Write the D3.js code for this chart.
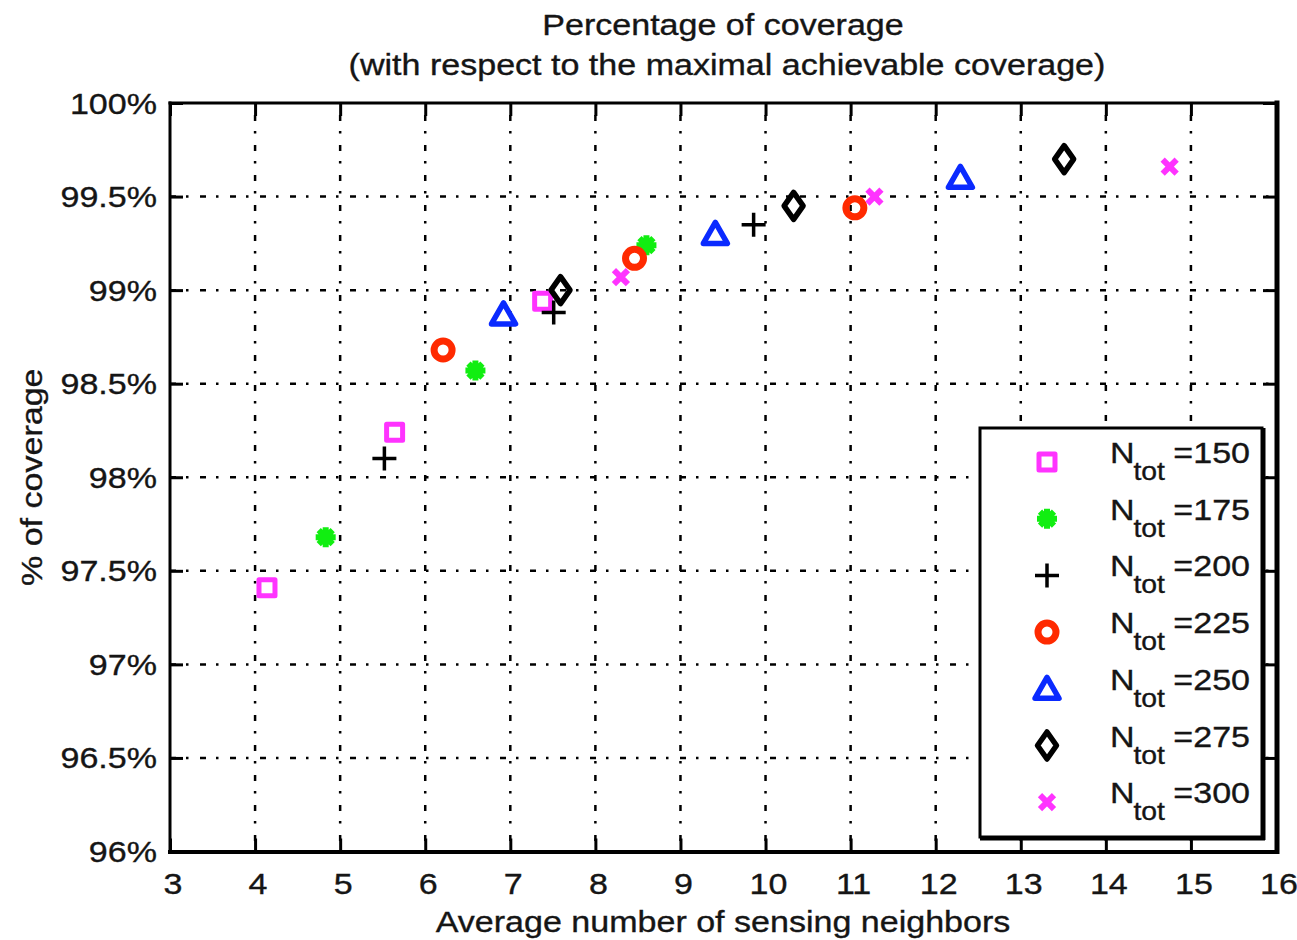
<!DOCTYPE html>
<html>
<head>
<meta charset="utf-8">
<script src="https://cdn.jsdelivr.net/npm/d3@7"></script>
<style>
  html, body { margin: 0; padding: 0; background: #fff; }
  svg { display: block; }
  text { font-family: "Liberation Sans", Arial, Helvetica, sans-serif; fill: #151515; stroke: #151515; stroke-width: 0.35; }
</style>
</head>
<body>
<svg id="chart" width="1297" height="940"></svg>
<script>
// Network sizes and their measured points
const nTot = [150, 175, 200, 225, 250, 275, 300];
const neighbors = [
  [4.14, 5.64, 7.38],
  [4.83, 6.59, 8.60],
  [5.52, 7.51, 9.86],
  [6.21, 8.46, 11.05],
  [6.92, 9.41, 12.29],
  [7.59, 10.33, 13.51],
  [8.30, 11.28, 14.75]
];
const coverage = [
  [97.41, 98.24, 98.94],
  [97.68, 98.57, 99.24],
  [98.10, 98.88, 99.35],
  [98.68, 99.17, 99.44],
  [98.87, 99.30, 99.60],
  [99.00, 99.45, 99.70],
  [99.07, 99.50, 99.66]
];
const markerKinds = ["square", "asterisk", "plus", "circle", "triangle", "diamond", "times"];
const markerColors = ["#ff33ff", "#11ee11", "#000000", "#ff2a00", "#0a2aff", "#000000", "#ff33ff"];

const xTicks = d3.range(3, 17, 1);
const yTicks = d3.range(96, 100.01, 0.5);

const titleLines = ["Percentage of coverage", "(with respect to the maximal achievable coverage)"];
const xLabel = "Average number of sensing neighbors";
const yLabel = "% of coverage";

const svg = d3.select("#chart");
const FS = 30, SX = 1.135;   // font size and horizontal glyph stretch

const x = d3.scaleLinear().domain([3, 16]).range([170, 1276]);
const y = d3.scaleLinear().domain([96, 100]).range([851.5, 103]);
const [x0, x1] = x.range();
const [y0, y1] = [y(100), y(96)];

function label(g, tx, ty, str, anchor, rot, size) {
  return g.append("text")
    .attr("transform", `translate(${tx},${ty})` + (rot ? ` rotate(${rot})` : "") + ` scale(${SX},1)`)
    .attr("text-anchor", anchor)
    .attr("font-size", size || FS)
    .text(str);
}

// Grid lines (dash-dot)
const grid = svg.append("g").attr("stroke", "#000").attr("stroke-width", 2.5).attr("fill", "none");
grid.selectAll("line.gx").data(xTicks.slice(1, -1)).join("line")
  .attr("x1", d => x(d)).attr("x2", d => x(d))
  .attr("y1", y0).attr("y2", y1)
  .attr("stroke-dasharray", "6,10,2.5,11.5").attr("stroke-dashoffset", 18);
grid.selectAll("line.gy").data(yTicks.slice(1, -1)).join("line")
  .attr("y1", d => y(d)).attr("y2", d => y(d))
  .attr("x1", x0).attr("x2", x1)
  .attr("stroke-dasharray", "6,10,2.5,11.5");

// Axes: ticks on all four sides, pointing inward
const tickLen = 13;
const axisBottom = d3.axisBottom(x).tickValues(xTicks).tickSize(-tickLen).tickFormat("");
const axisTop = d3.axisTop(x).tickValues(xTicks).tickSize(-tickLen).tickFormat("");
const axisLeft = d3.axisLeft(y).tickValues(yTicks).tickSize(-tickLen).tickFormat("");
const axisRight = d3.axisRight(y).tickValues(yTicks).tickSize(-tickLen).tickFormat("");

function styleAxis(g) {
  g.select(".domain").remove();
  g.selectAll(".tick line").attr("stroke", "#000").attr("stroke-width", 3);
  g.selectAll(".tick text").remove();
}
svg.append("g").attr("transform", `translate(0,${y1})`).call(axisBottom).call(styleAxis);
svg.append("g").attr("transform", `translate(0,${y0})`).call(axisTop).call(styleAxis);
svg.append("g").attr("transform", `translate(${x0},0)`).call(axisLeft).call(styleAxis);
svg.append("g").attr("transform", `translate(${x1},0)`).call(axisRight).call(styleAxis);

// Tick labels
const tl = svg.append("g");
xTicks.forEach(v => label(tl, x(v) + 3, y1 + 42, d3.format("d")(v), "middle"));
yTicks.forEach(v => label(tl, x0 - 13, y(v) + 10.5, d3.format("~g")(v) + "%", "end"));

// Frame
const frame = svg.append("g").attr("stroke", "#000").attr("fill", "none").attr("stroke-linecap", "square");
frame.append("line").attr("x1", x0).attr("x2", x1).attr("y1", y0).attr("y2", y0).attr("stroke-width", 3);
frame.append("line").attr("x1", x0).attr("x2", x0).attr("y1", y0).attr("y2", y1).attr("stroke-width", 3);
frame.append("line").attr("x1", x0).attr("x2", x1 + 1).attr("y1", y1 + 0.5).attr("y2", y1 + 0.5).attr("stroke-width", 4);
frame.append("line").attr("x1", x1 + 1).attr("x2", x1 + 1).attr("y1", y0).attr("y2", y1).attr("stroke-width", 5);

// Marker shapes
function markerPath(kind) {
  switch (kind) {
    case "square": return "M-8,-8H8V8H-8Z";
    case "plus": return "M-12,0H12M0,-12V12";
    case "times": return "M-7,-7L7,7M-7,7L7,-7";
    case "asterisk": return "M-10,0H10M0,-10V10M-7,-7L7,7M-7,7L7,-7";
    case "circle": return d3.arc()({innerRadius: 0, outerRadius: 9, startAngle: 0, endAngle: 2 * Math.PI});
    case "triangle": return "M0,-11.5L12,9.5H-12Z";
    case "diamond": return "M0,-13.5L9.5,0L0,13.5L-9.5,0Z";
  }
}
const markerWidth = { square: 5, plus: 3.5, times: 6, asterisk: 6, circle: 7, triangle: 5.5, diamond: 5.5 };

function drawMarker(g, kind, color) {
  g.append("path")
    .attr("d", markerPath(kind))
    .attr("fill", kind === "asterisk" ? color : "none")
    .attr("stroke", color)
    .attr("stroke-width", markerWidth[kind])
    .attr("stroke-linejoin", "round");
}

const pts = svg.append("g");
nTot.forEach((n, i) => {
  neighbors[i].forEach((nx, j) => {
    const g = pts.append("g").attr("transform", `translate(${x(nx)},${y(coverage[i][j])})`);
    drawMarker(g, markerKinds[i], markerColors[i]);
  });
});

// Legend
const leg = svg.append("g");
const lx = 980, ly = 428, lw = 282, lh = 409;
leg.append("rect").attr("x", lx).attr("y", ly).attr("width", lw).attr("height", lh)
  .attr("fill", "#fff").attr("stroke", "#000").attr("stroke-width", 3);
leg.append("line").attr("x1", lx + lw + 1.5).attr("x2", lx + lw + 1.5).attr("y1", ly).attr("y2", ly + lh + 3)
  .attr("stroke", "#000").attr("stroke-width", 4);
leg.append("line").attr("x1", lx).attr("x2", lx + lw + 3).attr("y1", ly + lh + 1.5).attr("y2", ly + lh + 1.5)
  .attr("stroke", "#000").attr("stroke-width", 4);

const rowGap = 56.7;
nTot.forEach((n, i) => {
  const cy = 462 + i * rowGap;
  const g = leg.append("g").attr("transform", `translate(1047,${cy})`);
  drawMarker(g, markerKinds[i], markerColors[i]);
  const t = leg.append("text")
    .attr("transform", `translate(1110,${cy + 1}) scale(${SX},1)`)
    .attr("font-size", FS);
  t.append("tspan").text("N");
  t.append("tspan").attr("font-size", 25).attr("dy", 17).attr("dx", -1).text("tot");
  t.append("tspan").attr("dy", -17).attr("dx", -1).text("\u00a0=" + n);
});

// Titles
const tg = svg.append("g");
label(tg, (x0 + x1) / 2, 35, titleLines[0], "middle");
label(tg, (x0 + x1) / 2 + 4, 75, titleLines[1], "middle");
label(tg, (x0 + x1) / 2, 932, xLabel, "middle");
label(tg, 42, (y0 + y1) / 2, yLabel, "middle", -90);
</script>
</body>
</html>
